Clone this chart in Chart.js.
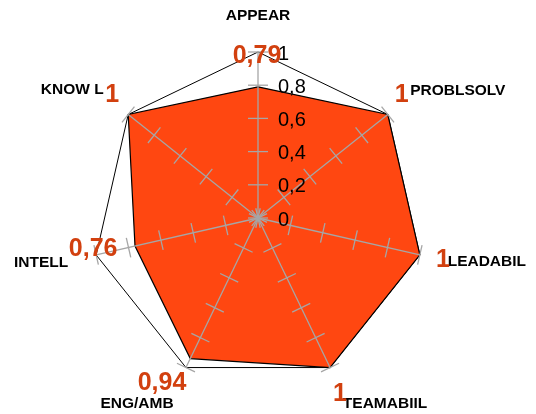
<!DOCTYPE html>
<html>
<head>
<meta charset="utf-8">
<script src="https://cdn.jsdelivr.net/npm/chart.js@4"></script>
<style>
html,body{margin:0;padding:0;background:#fff;}
#wrap{width:536px;height:414px;position:relative;}
</style>
</head>
<body>
<div id="wrap"><canvas id="c" width="536" height="414"></canvas></div>
<script>
// ---- data ----
const categories = ['APPEAR', 'PROBLSOLV', 'LEADABIL', 'TEAMABIIL', 'ENG/AMB', 'INTELL', 'KNOW L'];
const scoreValues = [0.79, 1, 1, 1, 0.94, 0.76, 1];
const maxValues = [1, 1, 1, 1, 1, 1, 1];
const tickValues = [0, 0.2, 0.4, 0.6, 0.8, 1];
const tickLabels = ['0', '0,2', '0,4', '0,6', '0,8', '1'];

// ---- label placement (offsets from the outer vertex, px) ----
const catOffsets = [[0,-36],[70,-24],[67,7],[55,36],[-49,36],[-55,8],[-56,-25]];
const valOffsets = [[-1,4],[14,-19],[23,5],[10,27],[-24,16],[-3,-6],[-16,-19]];

const fmt = v => String(v).replace('.', ',');

const overlay = {
  id: 'overlay',
  afterDatasetsDraw(chart) {
    const s = chart.scales.r;
    const ctx = chart.ctx;
    const n = categories.length;
    const rMax = s.getDistanceFromCenterForValue(1);
    ctx.save();
    // spokes
    ctx.strokeStyle = '#a6a6a6';
    ctx.lineWidth = 1.3;
    for (let i = 0; i < n; i++) {
      const p = s.getPointPosition(i, rMax);
      ctx.beginPath();
      ctx.moveTo(s.xCenter, s.yCenter);
      ctx.lineTo(p.x, p.y);
      ctx.stroke();
      // cross ticks
      const a = s.getIndexAngle(i) - Math.PI / 2;
      const px = -Math.sin(a), py = Math.cos(a);
      for (const tv of tickValues) {
        const q = s.getPointPosition(i, s.getDistanceFromCenterForValue(tv));
        ctx.beginPath();
        ctx.moveTo(q.x - px * 10, q.y - py * 10);
        ctx.lineTo(q.x + px * 10, q.y + py * 10);
        ctx.stroke();
      }
    }
    // tick labels
    ctx.fillStyle = '#000';
    ctx.font = '20px "Liberation Sans", Arial, sans-serif';
    ctx.textAlign = 'left';
    ctx.textBaseline = 'middle';
    tickValues.forEach((tv, k) => {
      const y = s.yCenter - s.getDistanceFromCenterForValue(tv);
      ctx.fillText(tickLabels[k], s.xCenter + 20, y + 2);
    });
    // category labels
    ctx.font = 'bold 15.5px "Liberation Sans", Arial, sans-serif';
    ctx.textAlign = 'center';
    ctx.fillStyle = '#000';
    for (let i = 0; i < n; i++) {
      const p = s.getPointPosition(i, rMax);
      ctx.fillText(categories[i], p.x + catOffsets[i][0], p.y + catOffsets[i][1]);
    }
    // value labels
    ctx.font = 'bold 25px "Liberation Sans", Arial, sans-serif';
    ctx.fillStyle = '#d2400f';
    for (let i = 0; i < n; i++) {
      const p = s.getPointPosition(i, rMax);
      ctx.fillText(fmt(scoreValues[i]), p.x + valOffsets[i][0], p.y + valOffsets[i][1]);
    }
    ctx.restore();
  }
};

new Chart(document.getElementById('c'), {
  type: 'radar',
  data: {
    labels: categories,
    datasets: [
      {
        label: 'Score',
        data: scoreValues,
        backgroundColor: '#ff4711',
        borderColor: '#000',
        borderWidth: 1.2,
        fill: true,
        pointRadius: 0,
        pointHoverRadius: 0
      },
      {
        label: 'Max',
        data: maxValues,
        backgroundColor: 'rgba(0,0,0,0)',
        borderColor: '#000',
        borderWidth: 1,
        fill: false,
        pointRadius: 0,
        pointHoverRadius: 0
      }
    ]
  },
  options: {
    responsive: false,
    animation: false,
    devicePixelRatio: 1,
    layout: { padding: { top: 52, bottom: 30, left: 92, right: 112 } },
    plugins: { legend: { display: false }, tooltip: { enabled: false } },
    scales: {
      r: {
        min: 0, max: 1,
        ticks: { display: false, stepSize: 0.2 },
        grid: { display: false },
        angleLines: { display: false },
        pointLabels: { display: false }
      }
    }
  },
  plugins: [overlay]
});
</script>
</body>
</html>
